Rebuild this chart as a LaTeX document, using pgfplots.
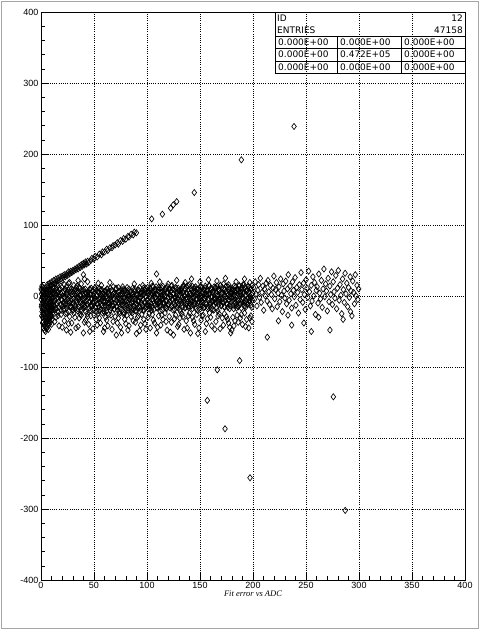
\documentclass[border=0pt]{standalone}
\usepackage{pgfplots}
\pgfplotsset{compat=1.18}
\usepackage{fontspec}
\setmainfont{Liberation Sans}
\newfontfamily\statfont{DejaVu Sans}
\newfontfamily\titlefont{Liberation Serif}
\begin{document}
\begin{tikzpicture}
\useasboundingbox (0pt,0pt) rectangle (480pt,630pt);
\draw[gray!70, line width=1.3pt] (1.5pt,1.5pt) rectangle (478.5pt,628.5pt);
\begin{axis}[
  at={(41pt,50pt)}, anchor=south west, scale only axis,
  width=424pt, height=568pt,
  xmin=0, xmax=400, ymin=-400, ymax=400,
  xtick distance=50, ytick distance=100, minor tick num=4,
  tick align=inside, xtick pos=bottom, ytick pos=left,
  major tick length=8pt, minor tick length=4pt,
  tick style={black, line width=0.6pt},
  axis line style={black, line width=0.9pt},
  grid=major,
  major grid style={black, line width=0.7pt, dash pattern=on 0.9pt off 1.3pt},
  ticklabel style={font=\fontsize{9}{9}\selectfont},
  /pgf/number format/assume math mode=true,
  /pgf/number format/1000 sep={},
  xticklabel style={yshift=1pt},
  yticklabel style={xshift=1pt},
]
\addplot[only marks, mark=diamond, mark size=3.1pt, mark options={draw=black, fill=none, line width=0.65pt}] coordinates {
(0.3,-5) (0.5,3) (0.6,-12) (0.8,8) (1.0,-22) (1.1,-2) (1.3,5) (1.4,-30) (1.6,-8) (1.7,12) (1.9,-15) (2.0,0) (2.2,-36) (2.3,-4) (2.5,6) (2.6,-25) (2.8,-10) (2.9,3) (3.1,-40) (3.2,-18) (3.4,9) (3.5,-6) (3.7,-28) (3.8,1) (4.0,-44) (4.1,-14) (4.3,4) (4.4,-33) (4.6,-9) (4.7,7) (4.9,-38) (5.0,-20) (5.2,-2) (5.3,-46) (5.5,-12) (5.6,5) (5.8,-30) (5.9,-7) (6.1,-41) (6.2,2) (6.4,-24) (6.5,-16) (6.7,8) (6.8,-35) (7.0,-5) (7.1,-27) (7.3,3) (7.4,-38) (7.6,-11) (7.7,6) (7.9,-22) (8.0,-3) (8.2,-31) (8.3,-14) (8.5,9) (8.6,-8) (8.8,-26) (8.9,2) (9.1,-18) (9.2,-6) (9.4,10) (9.5,-21) (9.7,-1) (9.8,-12) (10.0,5) (10.1,-28) (10.3,-4) (10.4,8) (10.6,-16) (10.7,-9) (10.9,3) (11.0,-24) (11.2,-2) (11.3,11) (11.5,-13) (11.6,-7) (11.8,4) (11.9,-19)
(0.2,10) (0.4,-15) (0.7,-28) (0.9,14) (1.2,-18) (1.5,-38) (1.8,-1) (2.1,-26) (2.4,-45) (2.7,11) (3.0,-20) (3.3,-48) (3.6,-12) (3.9,-30) (4.2,-50) (4.5,-3) (4.8,-24) (5.1,-36) (5.4,-22) (5.7,-44) (6.0,-15) (6.3,-32) (6.6,-4) (6.9,-47) (7.2,-19) (7.5,-29) (7.8,-40) (8.1,-12) (8.4,-20) (8.7,-36) (9.0,-10) (9.3,-30) (9.6,-15) (9.9,-40) (10.2,-20) (10.5,-33)
(12.2,3) (12.6,-14) (13.0,8) (13.4,-6) (13.8,-19) (14.2,1) (14.6,11) (15.0,-10) (15.4,-3) (15.8,-21) (16.2,6) (16.6,-8) (17.0,-16) (17.4,9) (17.8,-1) (18.2,-12) (18.6,4) (19.0,-20) (19.4,-5) (19.8,12) (20.2,-15) (20.6,0) (21.0,-9) (21.4,7) (21.8,-18) (22.2,-2) (22.6,10) (23.0,-11) (23.4,-7) (23.8,2) (24.2,-17) (24.6,5) (25.0,-13) (25.4,-4) (25.8,9) (26.2,-22) (26.6,-1) (27.0,6) (27.4,-9) (27.8,-14)
(28.2,-7) (28.6,10) (29.0,-16) (29.4,2) (29.8,-11) (30.2,-20) (30.6,5) (31.0,-3) (31.4,8) (31.8,-13) (32.2,-18) (32.6,0) (33.0,12) (33.4,-6) (33.8,-9) (34.2,4) (34.6,-21) (35.0,-1) (35.4,7) (35.8,-15) (36.2,-4) (36.6,11) (37.0,-10) (37.4,1) (37.8,-19) (38.2,-8) (38.6,6) (39.0,-12) (39.4,3) (39.8,-17) (40.2,9) (40.6,-5) (41.0,-14) (41.4,-2) (41.8,10) (42.2,-22) (42.6,-6) (43.0,4) (43.4,-11) (43.8,1)
(44.2,-12) (44.6,5) (45.0,-1) (45.4,-17) (45.8,9) (46.2,-8) (46.6,-20) (47.0,2) (47.4,11) (47.8,-5) (48.2,-14) (48.6,7) (49.0,-10) (49.4,0) (49.8,-19) (50.2,4) (50.6,-3) (51.0,12) (51.4,-16) (51.8,-7) (52.2,8) (52.6,-22) (53.0,1) (53.4,-11) (53.8,6) (54.2,-4) (54.6,-15) (55.0,10) (55.4,-9) (55.8,-2) (56.2,3) (56.6,-18) (57.0,-6) (57.4,9) (57.8,-13) (58.2,-1) (58.6,5) (59.0,-21) (59.4,-8) (59.8,2)
(60.2,-13) (60.6,-8) (61.0,7) (61.4,0) (61.8,-21) (62.2,10) (62.6,-3) (63.0,-12) (63.4,6) (63.8,-16) (64.2,3) (64.6,-10) (65.0,-6) (65.4,11) (65.8,-1) (66.2,-17) (66.6,8) (67.0,-8) (67.4,1) (67.8,-14) (68.2,13) (68.6,-4) (69.0,-19) (69.4,5) (69.8,-11) (70.2,2) (70.6,10) (71.0,-15) (71.4,-7) (71.8,0) (72.2,-20) (72.6,-2) (73.0,12) (73.4,-9) (73.8,-5) (74.2,7) (74.6,-18) (75.0,2) (75.4,-13) (75.8,4)
(76.2,0) (76.6,-12) (77.0,3) (77.4,-7) (77.8,-23) (78.2,9) (78.6,-3) (79.0,-15) (79.4,-6) (79.8,8) (80.2,-18) (80.6,2) (81.0,-13) (81.4,5) (81.8,-9) (82.2,-20) (82.6,0) (83.0,10) (83.4,-5) (83.8,-16) (84.2,-2) (84.6,6) (85.0,-22) (85.4,3) (85.8,-10) (86.2,-7) (86.6,11) (87.0,-1) (87.4,-19) (87.8,-14) (88.2,7) (88.6,-4) (89.0,-21) (89.4,-12) (89.8,1) (90.2,-11) (90.6,4) (91.0,-17) (91.4,9) (91.8,-8)
(92.2,-7) (92.6,-16) (93.0,12) (93.4,-3) (93.8,4) (94.2,-19) (94.6,0) (95.0,-10) (95.4,7) (95.8,-14) (96.2,-5) (96.6,11) (97.0,2) (97.4,-20) (97.8,-8) (98.2,9) (98.6,-17) (99.0,-1) (99.4,5) (99.8,-12)
(12.4,-9) (13.2,4) (14.0,-17) (14.8,8) (15.6,-2) (16.4,-23) (17.2,0) (18.0,10) (18.8,-13) (19.6,-6)
(20.4,5) (21.2,-19) (22.0,-1) (22.8,9) (23.6,-11) (24.4,-24) (25.2,2) (26.0,-7) (26.8,11) (27.6,-15)
(28.4,-4) (29.2,6) (30.0,-20) (30.8,-10) (31.6,3) (32.4,-14) (33.2,7) (34.0,-3) (34.8,-18) (35.6,12)
(36.4,-8) (37.2,1) (38.0,-22) (38.8,-5) (39.6,8) (40.4,-12) (41.2,-16) (42.0,4) (42.8,-1) (43.6,-25)
(44.4,6) (45.2,-9) (46.0,10) (46.8,-13) (47.6,-3) (48.4,-19) (49.2,2) (50.0,-7) (50.8,11) (51.6,-17)
(52.4,0) (53.2,-11) (54.0,5) (54.8,-21) (55.6,-4) (56.4,9) (57.2,-14) (58.0,3) (58.8,-8) (59.6,-23)
(60.4,7) (61.2,-2) (62.0,-16) (62.8,10) (63.6,-10) (64.4,1) (65.2,-20) (66.0,-6) (66.8,8) (67.6,-12)
(68.4,4) (69.2,-18) (70.0,-1) (70.8,11) (71.6,-15) (72.4,-5) (73.2,6) (74.0,-22) (74.8,2) (75.6,-9)
(76.4,9) (77.2,-13) (78.0,-3) (78.8,-24) (79.6,5) (80.4,-7) (81.2,12) (82.0,-17) (82.8,0) (83.6,-11)
(84.4,7) (85.2,-19) (86.0,-4) (86.8,3) (87.6,-14) (88.4,10) (89.2,-8) (90.0,-21) (90.8,1) (91.6,-6)
(92.4,8) (93.2,-16) (94.0,-2) (94.8,4) (95.6,-12) (96.4,-20) (97.2,6) (98.0,-10) (98.8,11) (99.6,-15)
(14,-30) (17,-42) (19,-26) (22,-35) (24,-48) (27,-29) (29,-38) (31,-24) (33,-45) (36,-31) (38,-27) (40,-52) (42,-34) (45,-40) (47,-28) (49,-46) (52,-33) (54,-25) (56,-38) (59,-50) (61,-30) (63,-42) (66,-27) (68,-36) (71,-55) (73,-31) (75,-44) (78,-26) (80,-39) (82,-48) (85,-29) (87,-35) (90,-53) (92,-28) (94,-41) (97,-33) (99,-47)
(13,-36) (16,-28) (20,-44) (23,-25) (26,-39) (28,-51) (32,-30) (35,-43) (37,-26) (41,-37) (44,-29) (46,-50) (50,-27) (53,-41) (55,-31) (58,-24) (60,-45) (62,-34) (64,-26) (67,-47) (70,-29) (72,-38) (74,-25) (76,-52) (79,-33) (81,-27) (83,-42) (86,-24) (89,-37) (91,-30) (93,-49) (95,-26) (98,-39)
(15,16) (26,18) (34,14) (44,20) (57,15) (65,19) (77,13) (88,17) (96,15)
(10,15) (13,18) (16,14) (19,21) (22,16) (24,13) (27,19) (31,15) (35,22) (38,17) (41,24) (40,30) (54,18)
(5,12) (6,16) (7,13) (8,18) (9,15) (10,20) (11,17) (12,22) (13,18) (14,24) (15,21) (16,25) (17,22) (18,27) (19,24) (20,28) (21,26) (22,30) (23,27) (24,31) (25,29) (26,34) (27,31) (28,35) (29,33) (30,36) (31,35) (32,38) (33,37) (34,40) (35,38) (36,42) (37,40) (38,44) (39,42) (40,46) (41,44) (42,48) (43,45) (44,49) (45,47) (47,50) (48,53) (50,52) (51,56) (53,55) (55,59) (57,58) (58,62) (60,62) (62,66) (63,64) (65,68) (67,68) (68,71) (70,72) (72,75) (73,73) (75,78) (77,77) (78,81) (80,80) (82,84) (83,83) (85,87) (87,86) (88,90) (90,89)
(104.4,108.6) (114.5,115.2) (122.3,123.7) (124.8,128.4) (128,133) (144.6,145.7) (189,191.8) (238.7,238.8) (109,31)
(100.2,-5) (100.6,12) (101.0,-14) (101.4,4) (101.8,-9) (102.2,-18) (102.6,7) (103.0,-1) (103.4,10) (103.8,-11) (104.2,-16) (104.6,2) (105.0,14) (105.4,-4) (105.8,-7) (106.2,6) (106.6,-19) (107.0,1) (107.4,9) (107.8,-13) (108.2,-2) (108.6,13) (109.0,-8) (109.4,3) (109.8,-17) (110.2,-6) (110.6,8) (111.0,-10) (111.4,5) (111.8,-15) (112.2,11) (112.6,-3) (113.0,-12) (113.4,0) (113.8,12) (114.2,-20) (114.6,-4) (115.0,6) (115.4,-9) (115.8,3)
(116.2,-10) (116.6,7) (117.0,1) (117.4,-15) (117.8,11) (118.2,-6) (118.6,-18) (119.0,4) (119.4,13) (119.8,-3) (120.2,-12) (120.6,9) (121.0,-8) (121.4,2) (121.8,-17) (122.2,6) (122.6,-1) (123.0,14) (123.4,-14) (123.8,-5) (124.2,10) (124.6,-20) (125.0,3) (125.4,-9) (125.8,8) (126.2,-2) (126.6,-13) (127.0,12) (127.4,-7) (127.8,0) (128.2,5) (128.6,-16) (129.0,-4) (129.4,11) (129.8,-11) (130.2,1) (130.6,7) (131.0,-19) (131.4,-6) (131.8,4)
(132.2,7) (132.6,-10) (133.0,12) (133.4,-2) (133.8,-15) (134.2,5) (134.6,15) (135.0,-6) (135.4,1) (135.8,-17) (136.2,10) (136.6,-4) (137.0,-12) (137.4,13) (137.8,3) (138.2,-8) (138.6,8) (139.0,-16) (139.4,-1) (139.8,16) (140.2,-11) (140.6,4) (141.0,-5) (141.4,11) (141.8,-14) (142.2,2) (142.6,14) (143.0,-7) (143.4,-3) (143.8,6) (144.2,-13) (144.6,9) (145.0,-9) (145.4,0) (145.8,13) (146.2,-18) (146.6,3) (147.0,10) (147.4,-5) (147.8,-10)
(148.2,4) (148.6,-8) (149.0,7) (149.4,-3) (149.8,-19) (150.2,13) (150.6,1) (151.0,-11) (151.4,-2) (151.8,12) (152.2,-14) (152.6,6) (153.0,-9) (153.4,9) (153.8,-5) (154.2,-16) (154.6,4) (155.0,14) (155.4,-1) (155.8,-12) (156.2,2) (156.6,10) (157.0,-18) (157.4,7) (157.8,-6) (158.2,-3) (158.6,15) (159.0,3) (159.4,-15) (159.8,-10) (160.2,11) (160.6,0) (161.0,-17) (161.4,-8) (161.8,5) (162.2,-7) (162.6,8) (163.0,-13) (163.4,13) (163.8,-4)
(164.2,-9) (164.6,-4) (165.0,11) (165.4,4) (165.8,-17) (166.2,14) (166.6,1) (167.0,-8) (167.4,10) (167.8,-12) (168.2,7) (168.6,-6) (169.0,-2) (169.4,15) (169.8,3) (170.2,-13) (170.6,12) (171.0,-4) (171.4,5) (171.8,-10) (172.2,17) (172.6,0) (173.0,-15) (173.4,9) (173.8,-7) (174.2,6) (174.6,14) (175.0,-11) (175.4,-3) (175.8,4) (176.2,-16) (176.6,2) (177.0,16) (177.4,-5) (177.8,-1) (178.2,11) (178.6,-14) (179.0,6) (179.4,-9) (179.8,8)
(180.2,5) (180.6,-7) (181.0,8) (181.4,-2) (181.8,-18) (182.2,14) (182.6,2) (183.0,-10) (183.4,-1) (183.8,13) (184.2,-13) (184.6,7) (185.0,-8) (185.4,10) (185.8,-4) (186.2,-15) (186.6,5) (187.0,15) (187.4,0) (187.8,-11) (188.2,3) (188.6,11) (189.0,-17) (189.4,8) (189.8,-5) (190.2,-2) (190.6,16) (191.0,4) (191.4,-14) (191.8,-9) (192.2,12) (192.6,1) (193.0,-16) (193.4,-7) (193.8,6) (194.2,-9) (194.6,9) (195.0,-12) (195.4,14) (195.8,-3)
(196.2,6) (196.6,-8) (197.0,12) (197.4,-3) (197.8,9) (198.2,-13) (198.6,2) (199.0,15) (199.4,-6) (199.8,4)
(100.4,-6) (101.2,7) (102.0,-14) (102.8,11) (103.6,1) (104.4,-20) (105.2,3) (106.0,13) (106.8,-10) (107.6,-3)
(108.4,8) (109.2,-16) (110.0,2) (110.8,12) (111.6,-8) (112.4,-21) (113.2,5) (114.0,-4) (114.8,14) (115.6,-12)
(116.4,-1) (117.2,9) (118.0,-17) (118.8,-7) (119.6,6) (120.4,-11) (121.2,10) (122.0,0) (122.8,-15) (123.6,15)
(124.4,-5) (125.2,4) (126.0,-19) (126.8,-2) (127.6,11) (128.4,-9) (129.2,-13) (130.0,7) (130.8,2) (131.6,-22)
(132.4,9) (133.2,-6) (134.0,13) (134.8,-10) (135.6,0) (136.4,-16) (137.2,5) (138.0,-4) (138.8,14) (139.6,-14)
(140.4,3) (141.2,-8) (142.0,8) (142.8,-18) (143.6,-1) (144.4,12) (145.2,-11) (146.0,6) (146.8,-5) (147.6,-20)
(148.4,10) (149.2,1) (150.0,-13) (150.8,13) (151.6,-7) (152.4,4) (153.2,-17) (154.0,-3) (154.8,11) (155.6,-9)
(156.4,7) (157.2,-15) (158.0,2) (158.8,14) (159.6,-12) (160.4,-2) (161.2,9) (162.0,-19) (162.8,5) (163.6,-6)
(164.4,12) (165.2,-10) (166.0,0) (166.8,-21) (167.6,8) (168.4,-4) (169.2,15) (170.0,-14) (170.8,3) (171.6,-8)
(172.4,10) (173.2,-16) (174.0,-1) (174.8,6) (175.6,-11) (176.4,13) (177.2,-5) (178.0,-18) (178.8,4) (179.6,-3)
(180.4,11) (181.2,-13) (182.0,1) (182.8,7) (183.6,-9) (184.4,-17) (185.2,9) (186.0,-7) (186.8,14) (187.6,-12)
(188.4,5) (189.2,-9) (190.0,12) (190.8,-4) (191.6,16) (192.4,-14) (193.2,2) (194.0,8) (194.8,-11) (195.6,13) (196.4,-6) (197.2,0) (198.0,10) (198.8,-16) (199.6,4)
(101,-30) (103,-45) (105,-26) (107,-38) (109,-52) (111,-28) (113,-41) (115,-33) (117,-24) (119,-48) (121,-29) (123,-37) (125,-55) (127,-27) (129,-43) (131,-31) (133,-25) (135,-47) (137,-35) (139,-28) (141,-52) (143,-30) (145,-40) (147,-26) (149,-45) (151,-34) (153,-27) (155,-50) (157,-32) (159,-24) (161,-42) (163,-20) (165,-36) (167,-28) (169,-46) (171,-31) (173,-25) (175,-29) (177,-38) (178,-44) (180,-48) (182,-42) (183,-35) (185,-27) (188,-31) (190,-40) (192,-24) (194,-33) (196,-45) (198,-28) (199,-36)
(102,-25) (106,-34) (110,-44) (114,-27) (118,-36) (122,-51) (126,-32) (130,-40) (134,-29) (138,-45) (140,-24) (144,-35) (148,-53) (152,-28) (156,-39) (160,-30) (164,-47) (168,-25) (172,-41) (176,-33) (179,-52) (181,-30) (186,-37) (189,-26) (193,-43) (197,-31)
(104,18) (112,20) (120,17) (128,22) (136,19) (142,24) (150,20) (158,23) (166,21) (174,25) (184,20) (192,24) (197,19)
(200.5,12) (201.3,-5) (202.1,20) (202.9,3) (203.7,-14) (204.5,8) (205.3,16) (206.1,-2) (206.9,25) (207.7,-9)
(208.5,5) (209.3,14) (210.1,-20) (210.9,10) (211.7,0) (212.5,18) (213.3,-7) (214.1,22) (214.9,6) (215.7,-12)
(216.5,15) (217.3,2) (218.1,-18) (218.9,11) (219.7,28) (220.5,-4) (221.3,9) (222.1,19) (222.9,-15) (223.7,4)
(224.5,13) (225.3,-8) (226.1,24) (226.9,1) (227.7,-22) (228.5,17) (229.3,7) (230.1,-3) (230.9,21) (231.7,-11)
(232.5,10) (233.3,30) (234.1,-6) (234.9,14) (235.7,3) (236.5,-17) (237.3,20) (238.1,8) (238.9,-1) (239.7,26)
(240.5,-13) (241.3,12) (242.1,5) (242.9,-24) (243.7,16) (244.5,-5) (245.3,33) (246.1,9) (246.9,-9) (247.7,18)
(248.5,2) (249.3,-19) (250.1,23) (250.9,11) (251.7,-2) (252.5,35) (253.3,6) (254.1,-14) (254.9,15) (255.7,-7)
(256.5,27) (257.3,0) (258.1,19) (258.9,-26) (259.7,8) (260.5,13) (261.3,-10) (262.1,31) (262.9,4) (263.7,-4)
(264.5,22) (265.3,-16) (266.1,10) (266.9,38) (267.7,-1) (268.5,17) (269.3,7) (270.1,-21) (270.9,25) (271.7,-8)
(272.5,14) (273.3,2) (274.1,34) (274.9,-12) (275.7,20) (276.5,6) (277.3,-3) (278.1,29) (278.9,-18) (279.7,11)
(280.5,36) (281.3,-6) (282.1,16) (282.9,1) (283.7,-25) (284.5,24) (285.3,9) (286.1,-9) (286.9,32) (287.7,3)
(288.5,18) (289.3,-15) (290.1,12) (290.9,-2) (291.7,27) (292.5,7) (293.3,-28) (294.1,21) (294.9,5) (295.7,-11)
(296.5,30) (297.3,0) (298.1,15) (298.9,-5) (299.7,10)
(213.5,-58) (255,-50) (272.6,-48) (236.5,-41) (233,-27) (224,-35) (248,-38) (262,-30) (285,-33) (292,-22)
(187.4,-91) (166.3,-104) (156.9,-147) (173.6,-187) (275.8,-142) (197.2,-256) (287,-302)
};
\end{axis}
% statistics box
\draw[black, line width=0.8pt] (275pt,556.5pt) rectangle (465pt,618pt);
\draw[black, line width=0.6pt] (275pt,593.3pt) -- (465pt,593.3pt);
\draw[black, line width=0.6pt] (275pt,581.7pt) -- (465pt,581.7pt);
\draw[black, line width=0.6pt] (275pt,569pt) -- (465pt,569pt);
\draw[black, line width=0.6pt] (337pt,593.3pt) -- (337pt,556.5pt);
\draw[black, line width=0.6pt] (401pt,593.3pt) -- (401pt,556.5pt);
\begin{scope}[every node/.style={inner sep=0pt, font=\statfont\fontsize{9}{9}\selectfont}]
\node[anchor=west] at (277pt,611.5pt) {ID};
\node[anchor=east] at (463pt,611.5pt) {12};
\node[anchor=west] at (277pt,599.5pt) {ENTRIES};
\node[anchor=east] at (463pt,599.5pt) {47158};
\node[anchor=west] at (278pt,587.5pt) {0.000E+00};
\node[anchor=west] at (340pt,587.5pt) {0.000E+00};
\node[anchor=west] at (404pt,587.5pt) {0.000E+00};
\node[anchor=west] at (278pt,575.3pt) {0.000E+00};
\node[anchor=west] at (340pt,575.3pt) {0.472E+05};
\node[anchor=west] at (404pt,575.3pt) {0.000E+00};
\node[anchor=west] at (278pt,562.8pt) {0.000E+00};
\node[anchor=west] at (340pt,562.8pt) {0.000E+00};
\node[anchor=west] at (404pt,562.8pt) {0.000E+00};
\end{scope}
\node[font=\titlefont\itshape\fontsize{8.5}{8.5}\selectfont, inner sep=0pt] at (253pt,36pt) {Fit error vs ADC};
\end{tikzpicture}
\end{document}
